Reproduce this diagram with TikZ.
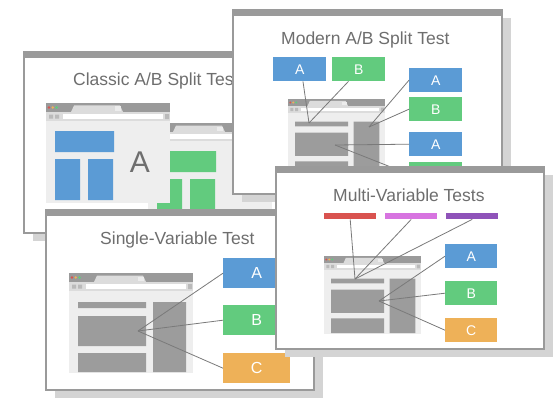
\documentclass[tikz,border=0pt]{standalone}
\usepackage{fontspec}
\setmainfont{Liberation Sans}

\definecolor{frame}{HTML}{9A9A9A}
\definecolor{cardshadow}{HTML}{D4D4D4}
\definecolor{titlegray}{HTML}{6E6E6E}
\definecolor{blk}{HTML}{9C9C9C}
\definecolor{pagebg}{HTML}{EEEEEE}
\definecolor{abar}{HTML}{DCDCDC}
\definecolor{vblue}{HTML}{5B9BD5}
\definecolor{vgreen}{HTML}{62CB7E}
\definecolor{vorange}{HTML}{EEB158}
\definecolor{vred}{HTML}{D9534F}
\definecolor{vpink}{HTML}{D774E0}
\definecolor{vpurple}{HTML}{8F53B9}
\definecolor{wire}{HTML}{7A7A7A}

\tikzset{
  paneltitle/.style={anchor=base west, inner sep=0pt, text=titlegray,
    font=\fontsize{17.5}{20}\selectfont},
  varbox/.style={anchor=north west, inner sep=0pt, text=white},
  smallbox/.style={varbox, minimum width=53pt, minimum height=24pt,
    font=\fontsize{14}{16}\selectfont},
  bigbox/.style={varbox, minimum width=67pt, minimum height=30pt,
    font=\fontsize{16}{18}\selectfont},
  colorbar/.style={anchor=north west, inner sep=0pt, minimum width=52pt,
    minimum height=6pt},
  wire/.style={draw=wire, line width=0.8pt},
}

% frame of one test card: x1, y1, x2, y2
\newcommand{\testpanel}[4]{%
  \fill[cardshadow] (#1+9,#2+8) rectangle (#3+9,#4+8);
  \filldraw[fill=white, draw=frame, line width=1.5pt] (#1,#2) rectangle (#3,#4);
  \fill[frame] (#1,#2) rectangle (#3,#2+6);
}

% browser window, 124 x 100 before scaling
\newcommand{\browserchrome}{%
  \fill[frame] (0,0) rectangle (124,9);
  \fill[abar] (28,2.5) -- (74,2.5) -- (77,9) -- (25,9) -- cycle;
  \fill[white!85!gray] (69,3.5) rectangle (75,8);
  \fill[vred] (3,4.5) circle (1.4);
  \fill[vorange] (6.8,4.5) circle (1.4);
  \fill[vgreen] (10.6,4.5) circle (1.4);
  \fill[abar] (0,9) rectangle (124,18);
  \fill[white] (17,11) rectangle (117,16);
  \fill[blk!70] (3,11.5) rectangle (7,15.5) (9,11.5) rectangle (13,15.5)
    (119,11) rectangle (123,16);
  \fill[pagebg] (0,18) rectangle (124,100);
}
\newcommand{\graylayout}{%
  \fill[blk] (9,29) rectangle (77,35) (9,43) rectangle (77,73)
    (9,80) rectangle (77,99) (84,29) rectangle (117,99);
}

\begin{document}
\begin{tikzpicture}[x=1pt, y=-1pt]
  \useasboundingbox (0,0) rectangle (560,412);
  \fill[white] (0,0) rectangle (560,412);

  % classic A/B split test
  \testpanel{24}{52}{296}{233}
  \node[paneltitle] (tclassic) at (73,86) {Classic A/B Split Test};
  \begin{scope}[shift={(148,123)}]
    \browserchrome
    \fill[vgreen] (9,28) rectangle (68,49) (9,56) rectangle (34,97)
      (42,56) rectangle (67,97);
  \end{scope}
  \begin{scope}[shift={(46,103)}]
    \browserchrome
    \fill[vblue] (9,28) rectangle (68,49) (9,56) rectangle (34,97)
      (42,56) rectangle (67,97);
  \end{scope}
  \node[text=titlegray, font=\fontsize{30}{32}\selectfont] (bigA) at (140,162) {A};

  % modern A/B split test
  \testpanel{233}{10}{502}{194}
  \node[paneltitle] (tmodern) at (281,45) {Modern A/B Split Test};
  \begin{scope}[shift={(288,99)}, scale=0.78]
    \browserchrome
    \graylayout
  \end{scope}
  \node[smallbox, fill=vblue] (mA1) at (273,57) {A};
  \node[smallbox, fill=vgreen] (mB1) at (332,57) {B};
  \node[smallbox, fill=vblue] (mA2) at (409,68) {A};
  \node[smallbox, fill=vgreen] (mB2) at (409,97) {B};
  \node[smallbox, fill=vblue] (mA3) at (409,132) {A};
  \node[smallbox, fill=vgreen] (mB3) at (409,162) {B};
  \coordinate (hdrM) at (309,123);
  \coordinate (sideM) at (369,127);
  \coordinate (mainM) at (335,145);
  \begin{scope}[wire]
    \draw (mA1.-75) to (hdrM);
    \draw (mB1.-130) to (hdrM);
    \draw (mA2.west) to (sideM);
    \draw (mB2.west) to (sideM);
    \draw (mA3.west) to (mainM);
    \draw (mainM) to (mB3.west);
  \end{scope}

  % single-variable test
  \testpanel{46}{210}{314}{390}
  \node[paneltitle] (tsingle) at (100,244) {Single-Variable Test};
  \begin{scope}[shift={(69,273)}]
    \browserchrome
    \graylayout
  \end{scope}
  \node[bigbox, fill=vblue] (sA) at (223,258) {A};
  \node[bigbox, fill=vgreen] (sB) at (223,305) {B};
  \node[bigbox, fill=vorange] (sC) at (223,353) {C};
  \coordinate (mainS) at (138,331);
  \begin{scope}[wire]
    \draw (mainS) to (sA.west);
    \draw (mainS) to (sB.west);
    \draw (mainS) to (sC.west);
  \end{scope}

  % multi-variable tests
  \testpanel{276}{167}{544}{349}
  \node[paneltitle] (tmulti) at (333,201) {Multi-Variable Tests};
  \node[colorbar, fill=vred] (barR) at (324,213) {};
  \node[colorbar, fill=vpink] (barP) at (385,213) {};
  \node[colorbar, fill=vpurple] (barV) at (446,213) {};
  \begin{scope}[shift={(324,256)}, scale=0.78]
    \browserchrome
    \graylayout
  \end{scope}
  \node[smallbox, minimum width=52pt, fill=vblue] (xA) at (445,244) {A};
  \node[smallbox, minimum width=52pt, fill=vgreen] (xB) at (445,281) {B};
  \node[smallbox, minimum width=52pt, fill=vorange] (xC) at (445,318) {C};
  \coordinate (hdrX) at (355,279);
  \coordinate (mainX) at (379,301);
  \begin{scope}[wire]
    \draw (barR.south) to (hdrX);
    \draw (barP.south) to (hdrX);
    \draw (barV.south) to (hdrX);
    \draw (xA.west) to (mainX);
    \draw (xB.west) to (mainX);
    \draw (xC.west) to (mainX);
  \end{scope}
\end{tikzpicture}
\end{document}
